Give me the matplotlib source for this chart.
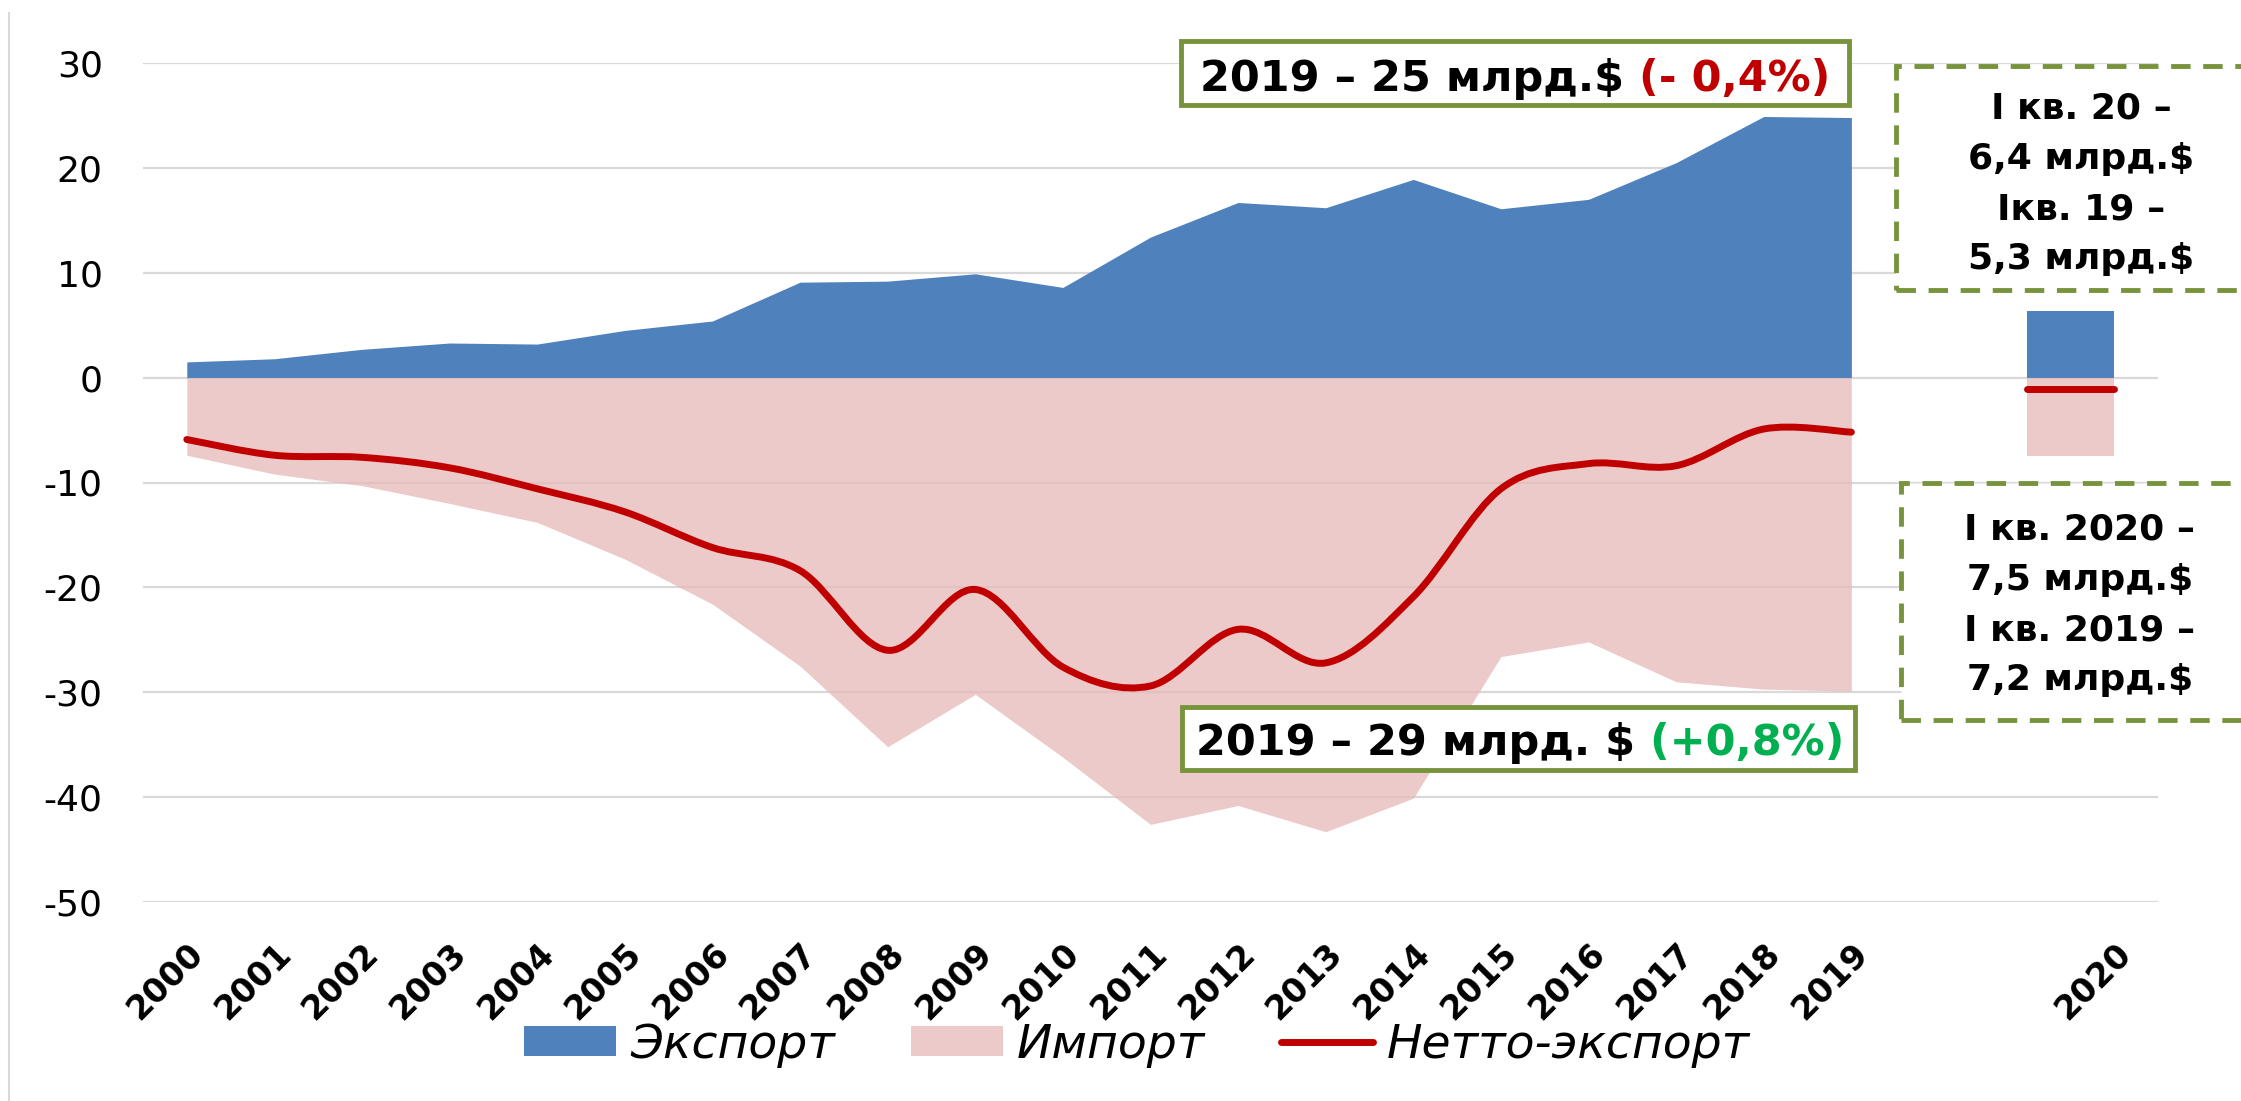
import numpy as np
import matplotlib
matplotlib.use('Agg')
import matplotlib.pyplot as plt
from matplotlib.path import Path
from matplotlib.patches import PathPatch, Rectangle, Patch
from matplotlib.lines import Line2D

plt.rcParams['axes.unicode_minus'] = False

# data, bln $
years = ['2000', '2001', '2002', '2003', '2004', '2005', '2006', '2007', '2008', '2009',
         '2010', '2011', '2012', '2013', '2014', '2015', '2016', '2017', '2018', '2019']
export = [1.5, 1.8, 2.7, 3.3, 3.2, 4.5, 5.4, 9.1, 9.2, 9.9,
          8.6, 13.4, 16.7, 16.2, 18.9, 16.1, 17.0, 20.5, 24.9, 24.8]
imports = [-7.4, -9.2, -10.3, -12.0, -13.8, -17.3, -21.6, -27.5, -35.2, -30.2,
           -36.2, -42.6, -40.8, -43.3, -40.1, -26.6, -25.2, -29.0, -29.7, -29.9]
net = [-5.9, -7.4, -7.6, -8.6, -10.6, -12.8, -16.2, -18.4, -26.0, -20.2,
       -27.6, -29.4, -24.0, -27.2, -20.9, -10.6, -8.2, -8.4, -4.9, -5.2]
q_label = '2020'
q_export = 6.4
q_import = -7.5
q_net = -1.1

BLUE = '#4F81BD'
PINK = '#E6B9B8'
RED = '#C00000'
GREEN = '#77933C'
GRID = '#D9D9D9'

W, H = 2241, 1101
def fx(px):
    return px / W
def fy(py):
    return 1 - py / H

def smooth_path(x, y):
    # excel-like smoothed line (catmull-rom as bezier)
    pts = np.column_stack([x, y]).astype(float)
    n = len(pts)
    verts = [pts[0]]
    codes = [Path.MOVETO]
    for i in range(n - 1):
        p0 = pts[i - 1] if i > 0 else pts[i]
        p1 = pts[i]
        p2 = pts[i + 1]
        p3 = pts[i + 2] if i + 2 < n else pts[i + 1]
        verts += [p1 + (p2 - p0) / 6, p2 - (p3 - p1) / 6, p2]
        codes += [Path.CURVE4] * 3
    return Path(verts, codes)

fig = plt.figure(figsize=(W / 100, H / 100), dpi=100)
ax = fig.add_axes([fx(143), fy(902), (2158 - 143) / W, (902 - 63) / H])

xpos = np.arange(len(years))
q_pos = len(years) + 1.5

ax.fill_between(xpos, 0, export, color=BLUE, lw=0, zorder=2)
ax.fill_between(xpos, 0, imports, color=PINK, alpha=0.75, lw=0, zorder=2)
ax.bar([q_pos], [q_export], width=1.0, color=BLUE, zorder=2)
ax.bar([q_pos], [q_import], width=1.0, color=PINK, alpha=0.75, zorder=2)

ax.add_patch(PathPatch(smooth_path(xpos, net), fill=False, edgecolor=RED, lw=5,
                       capstyle='round', joinstyle='round', zorder=3))
ax.plot([q_pos - 0.5, q_pos + 0.5], [q_net, q_net], color=RED, lw=5,
        solid_capstyle='round', zorder=3)

ax.set_xlim(-0.5, len(years) + 2.5)
ax.set_ylim(-50, 30)
ax.set_yticks(range(-50, 31, 10))
ax.yaxis.grid(True, color=GRID, lw=1.6)
ax.set_axisbelow(True)
for s in ax.spines.values():
    s.set_visible(False)

ax.set_xticks(list(xpos) + [len(years) + 2])
ax.set_xticklabels(years + [q_label])
ax.tick_params(axis='x', length=0, pad=25)
ax.tick_params(axis='y', length=0, pad=29, labelsize=26)
for lab in ax.get_xticklabels():
    lab.set_rotation(45)
    lab.set_ha('right')
    lab.set_va('top')
    lab.set_rotation_mode('anchor')
    lab.set_fontweight('bold')
    lab.set_fontsize(24)

# legend
handles = [Patch(facecolor=BLUE), Patch(facecolor=PINK, alpha=0.75),
           Line2D([], [], color=RED, lw=5, solid_capstyle='round')]
fig.legend(handles, ['Экспорт', 'Импорт', 'Нетто-экспорт'], loc='center',
           bbox_to_anchor=(fx(1137), fy(1045)), ncol=3, frameon=False,
           prop=dict(style='italic', size=34), handlelength=1.95, handleheight=0.62,
           handletextpad=0.3, columnspacing=1.6)

# left border line
fig.add_artist(Line2D([fx(9), fx(9)], [fy(13), 0], color=GRID, lw=1.5))

# solid boxes
for x0, y0, x1, y1 in [(1181, 41, 1849, 105), (1182, 707, 1855, 770)]:
    fig.add_artist(Rectangle((fx(x0), fy(y1)), (x1 - x0) / W, (y1 - y0) / H,
                             transform=fig.transFigure, facecolor='white',
                             edgecolor=GREEN, lw=3.5))

def two_color(x, baseline, s1, s2, c2):
    t1 = fig.text(fx(x), fy(baseline), s1, ha='left', va='baseline',
                  fontsize=31, fontweight='bold', color='black')
    fig.canvas.draw()
    bb = t1.get_window_extent()
    fig.text(bb.x1 / W, fy(baseline), s2, ha='left', va='baseline',
             fontsize=31, fontweight='bold', color=c2)

two_color(1200, 91, '2019 – 25 млрд.$', ' (- 0,4%)', RED)
two_color(1196, 755, '2019 – 29 млрд. $', ' (+0,8%)', '#00B050')

# dashed boxes
for x0, y0, y1 in [(1896, 66, 290), (1901, 483, 720)]:
    fig.add_artist(Rectangle((fx(x0), fy(y1)), (2300 - x0) / W, (y1 - y0) / H,
                             transform=fig.transFigure, facecolor='white',
                             edgecolor=GREEN, lw=3.5, linestyle=(0, (4, 2.6))))

fig.text(fx(2081), fy(184), 'I кв. 20 –\n6,4 млрд.$\nIкв. 19 –\n5,3 млрд.$',
         ha='center', va='center', fontsize=26, fontweight='bold', linespacing=1.6)
fig.text(fx(2080), fy(605), 'I кв. 2020 –\n7,5 млрд.$\nI кв. 2019 –\n7,2 млрд.$',
         ha='center', va='center', fontsize=26, fontweight='bold', linespacing=1.6)

fig.savefig('out.png', dpi=100)
